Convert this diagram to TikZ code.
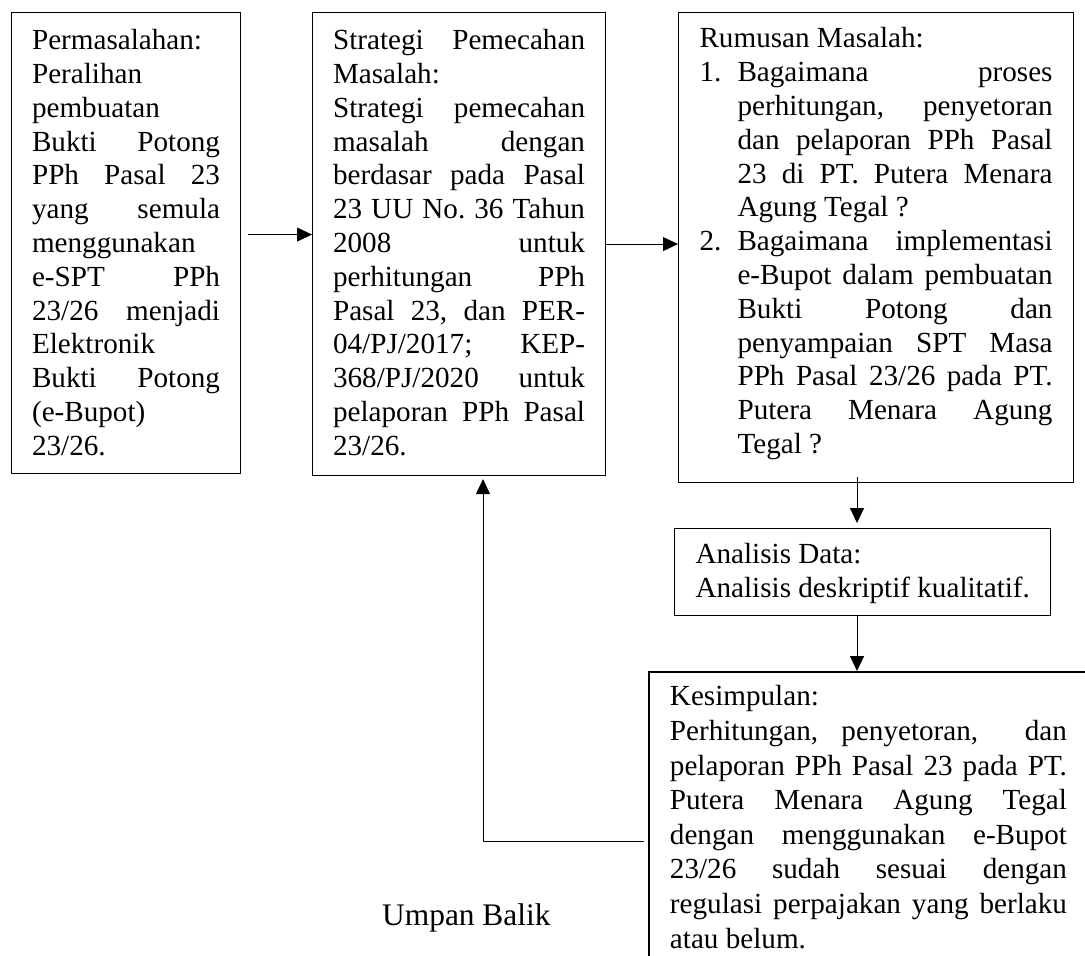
\documentclass[tikz,border=0pt]{standalone}
\usepackage{fontspec}
\setmainfont{Liberation Serif}
\usetikzlibrary{arrows.meta,calc}
\newcommand\jus[1]{\hbox to \linewidth{#1}}
\newcommand\nat[1]{\hbox{#1}}
\newcommand\li[2]{\hbox{\hbox to 38pt{#1\hfil}\hbox to 315pt{#2}}}
\newcommand\lin[2]{\hbox{\hbox to 38pt{#1\hfil}#2}}
\newcommand\boxbody[4]{\parbox[c][#1][t]{#2}{\vskip #3\hbox{}#4}}
\tikzset{
  box/.style={draw, line width=1.1pt, inner ysep=0pt, anchor=north west,
    font=\fontsize{29.15pt}{33.8pt}\selectfont\frenchspacing},
  boxb/.style={box, font=\fontsize{29.15pt}{34pt}\selectfont\frenchspacing},
  boxk/.style={box, line width=1.9pt, font=\fontsize{29.15pt}{34.6pt}\selectfont\frenchspacing},
  arr/.style={-{Triangle[length=15pt,width=14pt]}, line width=1pt},
  lbl/.style={anchor=base west, inner sep=0pt, font=\fontsize{31.4pt}{36pt}\selectfont}
}
\begin{document}
\begin{tikzpicture}[x=1pt,y=1pt]
\useasboundingbox (0,0) rectangle (1085,-956);
\fill[white] (0,0) rectangle (1085,-956);

\node[box, inner xsep=20.5pt] (b1) at (11,-12) {\boxbody{461pt}{188pt}{3.4pt}{%
\nat{Permasalahan:}
\nat{Peralihan}
\nat{pembuatan}
\jus{Bukti Potong}
\jus{PPh Pasal 23}
\jus{yang semula}
\nat{menggunakan}
\jus{e-SPT PPh}
\jus{23/26 menjadi}
\nat{Elektronik}
\jus{Bukti Potong}
\nat{(e-Bupot)}
\nat{23/26.}}};

\node[box, inner xsep=20.5pt] (b2) at (312,-12) {\boxbody{463pt}{252pt}{3.4pt}{%
\jus{Strategi Pemecahan}
\nat{Masalah:}
\jus{Strategi pemecahan}
\jus{masalah dengan}
\jus{berdasar pada Pasal}
\jus{23 UU No. 36 Tahun}
\jus{2008 untuk}
\jus{perhitungan PPh}
\jus{Pasal 23, dan PER-}
\jus{04/PJ/2017; KEP-}
\jus{368/PJ/2020 untuk}
\jus{pelaporan PPh Pasal}
\nat{23/26.}}};

\node[box, inner xsep=21pt] (b3) at (678,-12) {\boxbody{470pt}{353pt}{1.6pt}{%
\nat{Rumusan Masalah:}
\li{1.}{Bagaimana proses}
\li{}{perhitungan, penyetoran}
\li{}{dan pelaporan PPh Pasal}
\li{}{23 di PT. Putera Menara}
\lin{}{Agung Tegal ?}
\li{2.}{Bagaimana implementasi}
\li{}{e-Bupot dalam pembuatan}
\li{}{Bukti Potong dan}
\li{}{penyampaian SPT Masa}
\li{}{PPh Pasal 23/26 pada PT.}
\li{}{Putera Menara Agung}
\lin{}{Tegal ?}}};

\node[boxb, inner xsep=21pt] (b4) at (674,-528) {\boxbody{87pt}{343pt}{1pt}{%
\nat{Analisis Data:}
\nat{Analisis deskriptif kualitatif.}}};

\node[boxk, inner xsep=21pt] (b5) at (648,-671) {\boxbody{300pt}{397pt}{-0.6pt}{%
\nat{Kesimpulan:}
\jus{Perhitungan, penyetoran,\ \ dan}
\jus{pelaporan PPh Pasal 23 pada PT.}
\jus{Putera Menara Agung Tegal}
\jus{dengan menggunakan e-Bupot}
\jus{23/26 sudah sesuai dengan}
\jus{regulasi perpajakan yang berlaku}
\nat{atau belum.}}};

\node[lbl] (ub) at (382,-925) {Umpan Balik};

\coordinate (vx) at (857,0);
\coordinate (fb) at (483,-841);

\draw[arr] ([xshift=7pt,yshift=8.5pt]b1.east) -- ([yshift=9.5pt]b2.west);
\draw[arr] (b2.east) -- (b2.east -| b3.west);
\draw[arr, shorten <=-6pt, shorten >=5pt] (b3.south -| vx) -- (b4.north -| vx);
\draw[arr] (b4.south -| vx) -- (b5.north -| vx);
\draw[arr, shorten <=4pt, shorten >=3pt] (b5.west |- fb) -- (fb) -- (fb |- b2.south);
\end{tikzpicture}
\end{document}
